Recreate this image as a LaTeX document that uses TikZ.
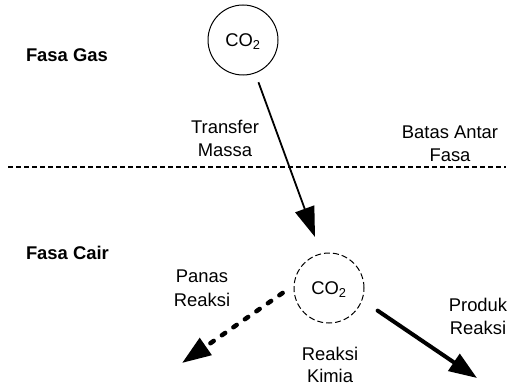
\documentclass[tikz,border=0pt]{standalone}
\usepackage{fontspec}
\setmainfont{Liberation Sans}
\usetikzlibrary{arrows.meta}
\begin{document}
\begin{tikzpicture}[x=1pt,y=-1pt,
  lbl/.style={inner sep=0pt,outer sep=0pt,font=\fontsize{18.4}{23.3}\selectfont,align=center},
  phase/.style={lbl,font=\fontsize{18.4}{23.3}\selectfont\bfseries},
  mol/.style={circle,draw,inner sep=0pt,outer sep=0pt,minimum size=70pt,line width=1pt,
    font=\fontsize{18.4}{23.3}\selectfont,text depth=0pt},
  thinarrow/.style={line width=1.8pt,-{Triangle[length=30pt,width=20pt]}},
  heatarrow/.style={line width=4.5pt,line cap=round,dash pattern=on 4pt off 10pt,-{Triangle[length=29pt,width=20pt]}},
  prodarrow/.style={line width=4pt,line cap=round,-{Triangle[length=28pt,width=20pt]}},
  iface/.style={line width=2.5pt,dash pattern=on 5pt off 3pt}
]
\useasboundingbox (0,0) rectangle (513,385);
\fill[white] (0,0) rectangle (513,385);

\node[phase,anchor=base west] (gas) at (26,61.7) {Fasa Gas};
\node[phase,anchor=base west] (cair) at (26,259) {Fasa Cair};

\node[mol] (g) at (243,40) {CO\textsubscript{2}};
\node[mol,dashed,dash pattern=on 6pt off 3pt] (l) at (329,288) {CO\textsubscript{2}};

\coordinate (ifL) at (8,167);
\coordinate (ifR) at (506,167);
\draw[iface] (ifL) -- (ifR);

% anchor=base is the baseline of the last line
\node[lbl,anchor=base] (tm) at (225,156.7) {Transfer\\Massa};
\node[lbl,anchor=base] (baf) at (450,161.7) {Batas Antar\\Fasa};
\node[lbl,anchor=base] (pr) at (202,306) {Panas\\Reaksi};
\node[lbl,anchor=base,font=\fontsize{18.4}{22.3}\selectfont] (rk) at (330,382.3) {Reaksi\\Kimia};
\node[lbl,anchor=base] (prr) at (478,334.3) {Produk\\Reaksi};

\coordinate (t1) at (315,237);
\coordinate (t2) at (182,363);
\coordinate (t3) at (477,378);

\draw[thinarrow,shorten <=10pt] (g) -- (t1);
\draw[heatarrow,shorten <=14pt] (l.175) -- (t2);
\draw[prodarrow,shorten <=19pt] (l.-20) -- (t3);
\end{tikzpicture}
\end{document}
